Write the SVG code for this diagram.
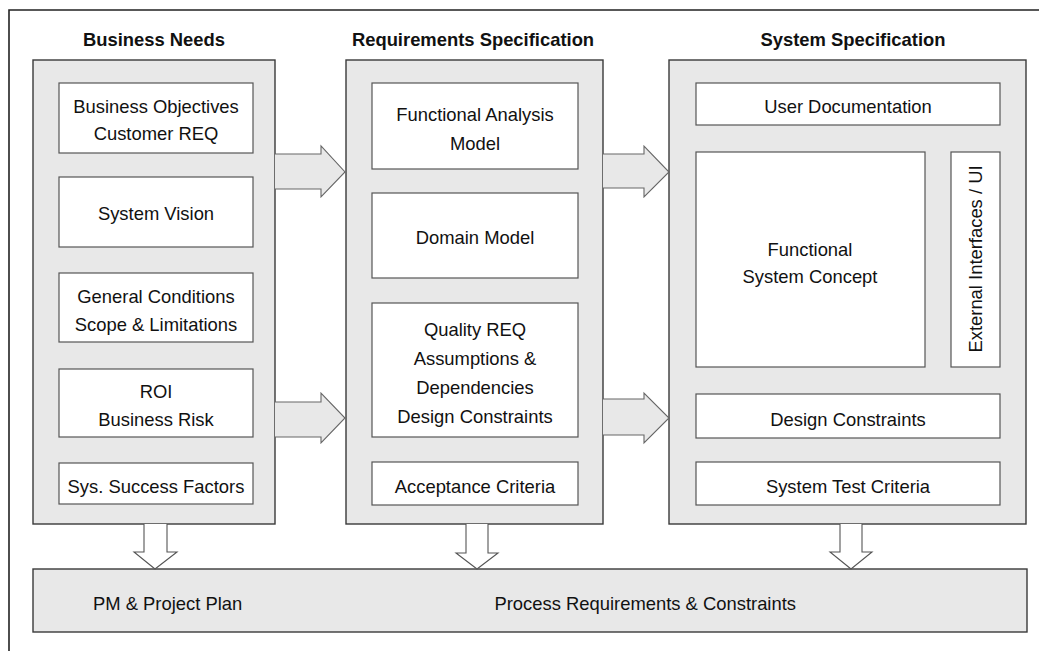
<svg xmlns="http://www.w3.org/2000/svg" width="1039" height="651" viewBox="0 0 1039 651">
  <style>
    .frame { fill: none; stroke: #222; stroke-width: 1.6; }
    .panel { fill: #e8e8e8; stroke: #3a3a3a; stroke-width: 1.4; }
    .box { fill: #fff; stroke: #555; stroke-width: 1.2; }
    .flow { fill: #e8e8e8; stroke: #666; stroke-width: 1.1; }
    .drop { fill: #fff; stroke: #555; stroke-width: 1.1; }
    text { font-family: "Liberation Sans", Arial, sans-serif; font-size: 18.4px; fill: #111; text-anchor: middle; }
    .title { font-weight: bold; }
  </style>

  <rect width="1039" height="651" fill="#fff"/>
  <path class="frame" d="M9,651 V10 H1039"/>

  <!-- Column: Business Needs -->
  <g id="business-needs">
    <text class="title" x="154" y="46">Business Needs</text>
    <rect class="panel" x="33" y="60" width="242" height="464"/>
    <g id="bn-objectives">
      <rect class="box" x="59" y="83" width="194" height="70"/>
      <text x="156" y="113">Business Objectives</text>
      <text x="156" y="140">Customer REQ</text>
    </g>
    <g id="bn-vision">
      <rect class="box" x="59" y="177" width="194" height="70"/>
      <text x="156" y="220">System Vision</text>
    </g>
    <g id="bn-conditions">
      <rect class="box" x="59" y="273" width="194" height="69"/>
      <text x="156" y="303">General Conditions</text>
      <text x="156" y="331">Scope &amp; Limitations</text>
    </g>
    <g id="bn-roi">
      <rect class="box" x="59" y="369" width="194" height="68"/>
      <text x="156" y="398">ROI</text>
      <text x="156" y="426">Business Risk</text>
    </g>
    <g id="bn-success">
      <rect class="box" x="59" y="463" width="194" height="41"/>
      <text x="156" y="493">Sys. Success Factors</text>
    </g>
  </g>

  <!-- Column: Requirements Specification -->
  <g id="requirements-spec">
    <text class="title" x="473" y="46">Requirements Specification</text>
    <rect class="panel" x="346" y="60" width="257" height="464"/>
    <g id="rs-functional">
      <rect class="box" x="372" y="83" width="206" height="86"/>
      <text x="475" y="121">Functional Analysis</text>
      <text x="475" y="150">Model</text>
    </g>
    <g id="rs-domain">
      <rect class="box" x="372" y="193" width="206" height="85"/>
      <text x="475" y="244">Domain Model</text>
    </g>
    <g id="rs-quality">
      <rect class="box" x="372" y="303" width="206" height="134"/>
      <text x="475" y="336">Quality REQ</text>
      <text x="475" y="365">Assumptions &amp;</text>
      <text x="475" y="394">Dependencies</text>
      <text x="475" y="423">Design Constraints</text>
    </g>
    <g id="rs-acceptance">
      <rect class="box" x="372" y="462" width="206" height="43"/>
      <text x="475" y="493">Acceptance Criteria</text>
    </g>
  </g>

  <!-- Column: System Specification -->
  <g id="system-spec">
    <text class="title" x="853" y="46">System Specification</text>
    <rect class="panel" x="669" y="60" width="357" height="464"/>
    <g id="ss-userdoc">
      <rect class="box" x="696" y="83" width="304" height="42"/>
      <text x="848" y="113">User Documentation</text>
    </g>
    <g id="ss-concept">
      <rect class="box" x="696" y="152" width="229" height="215"/>
      <text x="810" y="256">Functional</text>
      <text x="810" y="283">System Concept</text>
    </g>
    <g id="ss-interfaces">
      <rect class="box" x="951" y="152" width="49" height="215"/>
      <text transform="translate(982,259) rotate(-90)">External Interfaces / UI</text>
    </g>
    <g id="ss-design">
      <rect class="box" x="696" y="394" width="304" height="44"/>
      <text x="848" y="426">Design Constraints</text>
    </g>
    <g id="ss-test">
      <rect class="box" x="696" y="462" width="304" height="43"/>
      <text x="848" y="493">System Test Criteria</text>
    </g>
  </g>

  <!-- Bottom band -->
  <g id="process">
    <rect class="panel" x="33" y="569" width="994" height="63"/>
    <text x="93" y="610" style="text-anchor:start">PM &amp; Project Plan</text>
    <text x="796" y="610" style="text-anchor:end">Process Requirements &amp; Constraints</text>
  </g>

  <!-- Connectors: block arrows -->
  <g id="connectors">
    <path class="flow" d="M275,154 H321 V146 L345,172 L321,197 V189 H275"/>
    <path class="flow" d="M275,402 H321 V393 L345,418 L321,443 V437 H275"/>
    <path class="flow" d="M603,154 H644 V146 L669,172 L644,197 V188 H603"/>
    <path class="flow" d="M603,399 H644 V393 L669,418 L644,443 V435 H603"/>
    <path class="drop" d="M144,524 V552 H134 L155,569 L177,552 H167 V524"/>
    <path class="drop" d="M466,524 V553 H456 L477,569 L498,553 H488 V524"/>
    <path class="drop" d="M840,524 V552 H830 L851,569 L872,552 H862 V524"/>
  </g>
</svg>
